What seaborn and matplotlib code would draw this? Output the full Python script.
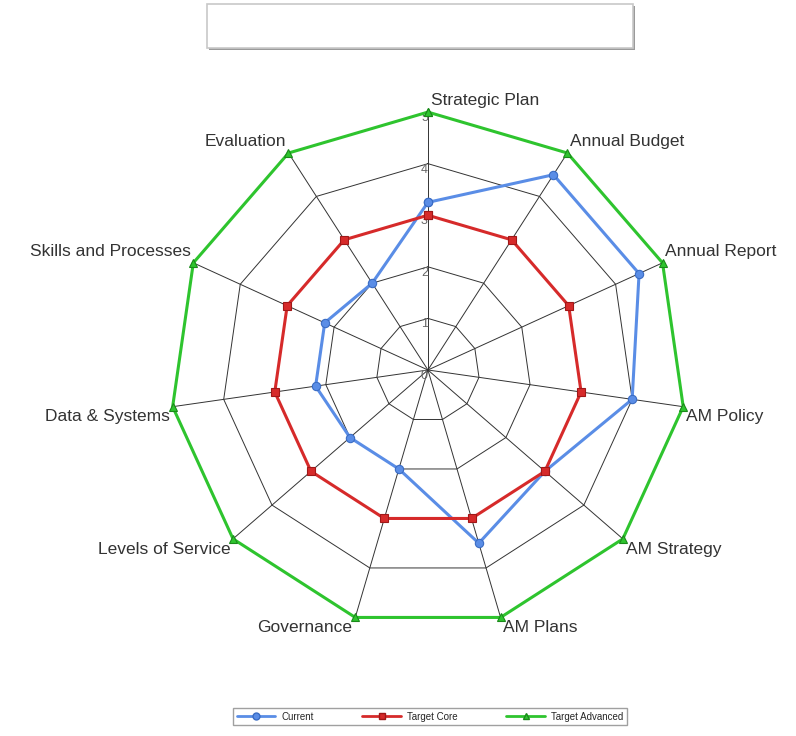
import numpy as np
import pandas as pd
import matplotlib
matplotlib.use("Agg")
import matplotlib.pyplot as plt
from matplotlib.lines import Line2D
from matplotlib.patches import Rectangle
import seaborn as sns

categories = ["Strategic Plan", "Annual Budget", "Annual Report", "AM Policy",
              "AM Strategy", "AM Plans", "Governance", "Levels of Service",
              "Data & Systems", "Skills and Processes", "Evaluation"]
current = [3.25, 4.5, 4.5, 4.0, 3.0, 3.5, 2.0, 2.0, 2.2, 2.2, 2.0]
target_core = [3, 3, 3, 3, 3, 3, 3, 3, 3, 3, 3]
target_advanced = [5, 5, 5, 5, 5, 5, 5, 5, 5, 5, 5]
series_names = ["Current", "Target Core", "Target Advanced"]
radial_ticks = [0, 1, 2, 3, 4, 5]

colors = {"Current": "#5a8de6", "Target Core": "#d62a2a", "Target Advanced": "#2ec42e"}
edges = {"Current": "#3a6cc4", "Target Core": "#a01818", "Target Advanced": "#1a8a1a"}
markers = {"Current": "o", "Target Core": "s", "Target Advanced": "^"}

sns.set_theme(style="white")
plt.rcParams["font.family"] = ["Liberation Sans", "DejaVu Sans"]

n = len(categories)
angles = np.linspace(0, 2 * np.pi, n, endpoint=False)
closed = np.append(angles, 2 * np.pi)

rows = []
for name, vals in zip(series_names, [current, target_core, target_advanced]):
    for a, v in zip(closed, vals + vals[:1]):
        rows.append({"series": name, "theta": a, "value": v})
df = pd.DataFrame(rows)

fig = plt.figure(figsize=(7.96, 7.36), dpi=100)
ax = fig.add_axes([0.2136, 0.1468, 0.648, 0.701], projection="polar")
ax.set_theta_zero_location("N")
ax.set_theta_direction(-1)

# web grid: polygon rings and spokes
for r in radial_ticks[1:]:
    ax.plot(closed, [r] * (n + 1), color="#333333", lw=0.7, zorder=1)
for a in angles:
    ax.plot([a, a], [0, 5], color="#333333", lw=0.7, zorder=1)

before = len(ax.lines)
sns.lineplot(data=df, x="theta", y="value", hue="series", style="series",
             hue_order=series_names, style_order=series_names, palette=colors,
             markers=markers, dashes=False, sort=False, estimator=None,
             linewidth=2.2, markersize=6, legend=False, ax=ax)
for line, name in zip(ax.lines[before:], series_names):
    line.set_markeredgecolor(edges[name])
    line.set_markeredgewidth(0.8)
    line.set_clip_on(False)
    line.set_zorder(3)

ax.set_ylim(0, 5)
ax.set_xticks([])
ax.set_yticks([])
ax.set_xlabel("")
ax.set_ylabel("")
ax.grid(False)
ax.spines["polar"].set_visible(False)

for r in radial_ticks:
    ax.text(0, r, str(r), ha="right", va="top", fontsize=9, color="#666666", zorder=2,
            transform=ax.transData)

for a, label in zip(angles, categories):
    deg = np.degrees(a)
    ha = "left" if deg < 180 else "right"
    va = "bottom" if (deg < 90 or deg > 270) else "top"
    dx = 2 if ha == "left" else -2
    dy = 3 if va == "bottom" else -2
    ax.annotate(label, xy=(a, 5), xytext=(dx, dy), textcoords="offset points",
                ha=ha, va=va, fontsize=12.5, color="#333333", annotation_clip=False)

# empty title box
fig.patches.append(Rectangle((209 / 796, 1 - 50 / 736), 426 / 796, 44 / 736,
                             transform=fig.transFigure, facecolor="#9a9a9a",
                             edgecolor="none", zorder=0))
fig.patches.append(Rectangle((207 / 796, 1 - 48 / 736), 426 / 796, 44 / 736,
                             transform=fig.transFigure, facecolor="white",
                             edgecolor="#c8c8c8", lw=1.2, zorder=1))

handles = [Line2D([], [], color=colors[s], marker=markers[s], markersize=5,
                  markeredgecolor=edges[s], lw=2) for s in series_names]
fig.legend(handles, series_names, loc="center", bbox_to_anchor=(0.540, 0.026),
           ncol=3, fontsize=7, frameon=True, fancybox=False, edgecolor="#888888",
           handlelength=4, columnspacing=5, handletextpad=0.6, borderpad=0.35)

fig.savefig("out.png", dpi=100)
